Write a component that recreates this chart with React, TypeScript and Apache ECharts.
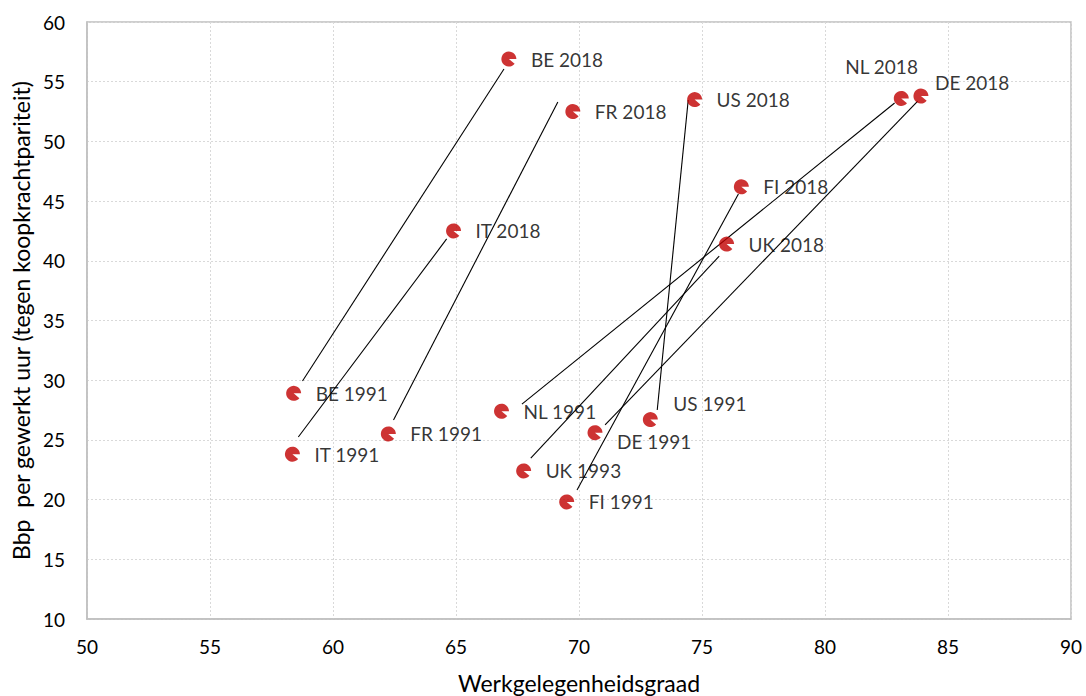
import React, { useEffect, useRef } from "react";
import * as echarts from "echarts";

const pointLabels = ["BE 2018", "BE 1991", "FR 2018", "FR 1991", "IT 2018", "IT 1991", "US 2018", "US 1991", "NL 2018", "NL 1991", "DE 2018", "DE 1991", "FI 2018", "FI 1991", "UK 2018", "UK 1993"];
const employment = [67.15, 58.4, 69.75, 62.25, 64.9, 58.35, 74.7, 72.9, 83.1, 66.85, 83.9, 70.65, 76.6, 69.5, 76.0, 67.75];
const gdpPerHour = [56.9, 28.9, 52.5, 25.5, 42.5, 23.8, 53.5, 26.7, 53.6, 27.4, 53.8, 25.6, 46.2, 19.8, 41.4, 22.4];

// connector lines (drawn by hand in the original), in data units
const connectorFromX = [58.76, 58.59, 62.46, 73.18, 67.68, 71.06, 68.04, 69.92];
const connectorFromY = [29.93, 25.24, 26.67, 27.5, 28.0, 26.25, 23.48, 20.8];
const connectorToX = [66.95, 64.62, 69.14, 74.44, 82.83, 83.77, 75.7, 76.48];
const connectorToY = [56.06, 41.83, 53.3, 53.47, 53.22, 53.38, 40.4, 45.6];

const xTicks = { min: 50, max: 90, interval: 5 };
const yTicks = { min: 10, max: 60, interval: 5 };

const labelOffsets: Record<string, [number, number]> = {
  "NL 2018": [-56, -32],
  "DE 2018": [14, -14],
  "US 1991": [23, -16],
  "DE 1991": [22, 9],
};

const FONT = "Lato, 'Open Sans', sans-serif";
const PACMAN = "path://M0,0 L1,0 A1,1 0 1,0 0.766,0.643 Z";

export default function App() {
  const ref = useRef<HTMLDivElement>(null);
  useEffect(() => {
    if (!ref.current) return;
    const chart = echarts.init(ref.current, undefined, { renderer: "svg" });
    const scatterData = pointLabels.map((name, i) => ({
      name,
      value: [employment[i], gdpPerHour[i]],
      label: {
        offset: labelOffsets[name] || [22, 0],
      },
    }));
    const lineData = connectorFromX.map((x, i) => ({
      coords: [
        [x, connectorFromY[i]],
        [connectorToX[i], connectorToY[i]],
      ],
    }));
    const gridLine = { show: true, lineStyle: { color: "#d9d9d9", type: [2, 2] as any, width: 1 } };
    chart.setOption({
      animation: false,
      backgroundColor: "#ffffff",
      textStyle: { fontFamily: FONT },
      grid: {
        left: 87,
        right: 15,
        top: 22,
        bottom: 77,
        show: true,
        borderColor: "#bfbfbf",
        borderWidth: 1.5,
        outerBoundsMode: "none",
        containLabel: false,
      },
      xAxis: {
        type: "value",
        min: xTicks.min,
        max: xTicks.max,
        interval: xTicks.interval,
        name: "Werkgelegenheidsgraad",
        nameLocation: "middle",
        nameGap: 52,
        nameTextStyle: { fontFamily: FONT, fontSize: 23, color: "#000" },
        axisLine: { show: true, lineStyle: { color: "#bfbfbf", width: 1.5 } },
        axisTick: { show: false },
        axisLabel: { fontFamily: FONT, fontSize: 19, color: "#000", margin: 18 },
        splitLine: gridLine,
      },
      yAxis: {
        type: "value",
        min: yTicks.min,
        max: yTicks.max,
        interval: yTicks.interval,
        name: "Bbp  per gewerkt uur (tegen koopkrachtpariteit)",
        nameLocation: "middle",
        nameGap: 53,
        nameTextStyle: { fontFamily: FONT, fontSize: 23, color: "#000" },
        axisLine: { show: true, lineStyle: { color: "#bfbfbf", width: 1.5 } },
        axisTick: { show: false },
        axisLabel: { fontFamily: FONT, fontSize: 19, color: "#000", margin: 22 },
        splitLine: gridLine,
      },
      series: [
        {
          type: "lines",
          coordinateSystem: "cartesian2d",
          polyline: false,
          silent: true,
          lineStyle: { color: "#000", width: 1.1, opacity: 1 },
          data: lineData,
          z: 3,
        },
        {
          type: "scatter",
          symbol: PACMAN,
          symbolSize: 15,
          itemStyle: { color: "#c00000" },
          data: scatterData,
          z: 4,
          label: {
            show: true,
            position: "inside",
            align: "left",
            verticalAlign: "middle",
            formatter: "{b}",
            fontFamily: FONT,
            fontSize: 19,
            color: "#000",
          },
        },
      ],
    });
    return () => chart.dispose();
  }, []);
  return <div ref={ref} style={{ width: 1086, height: 696, position: "absolute", left: 0, top: 0 }} />;
}
